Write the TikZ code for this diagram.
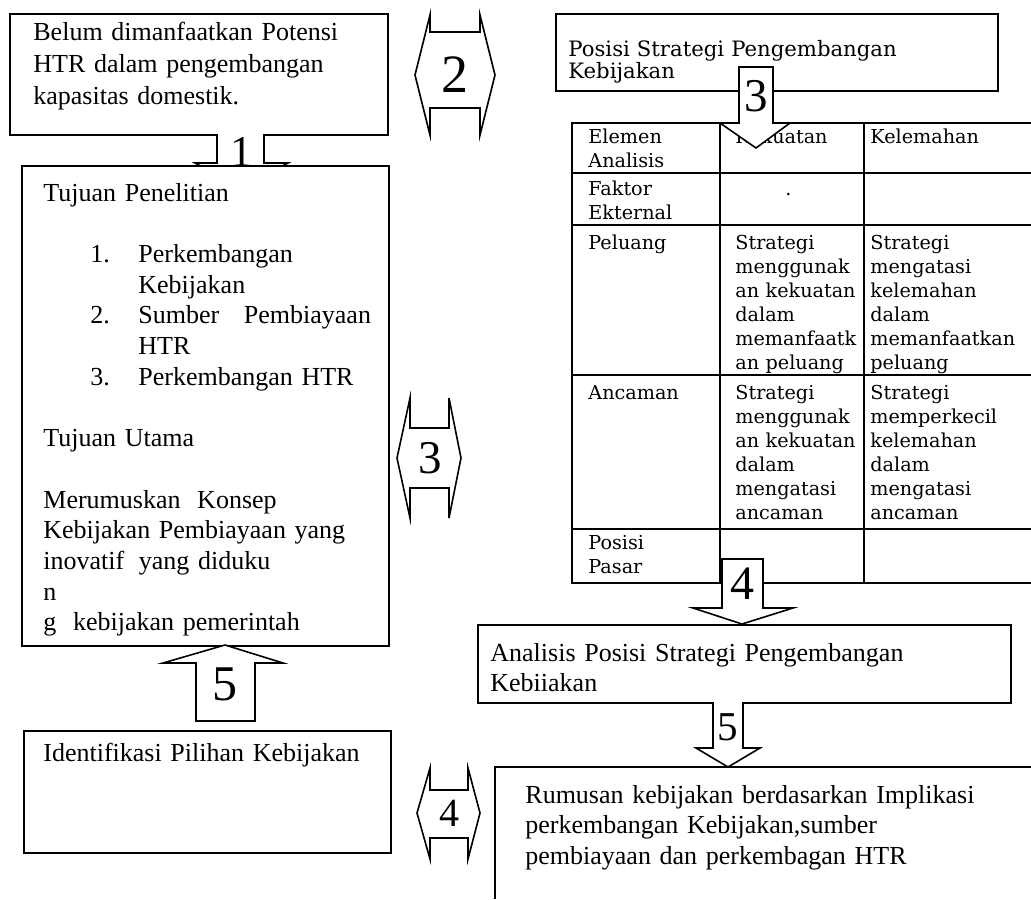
\documentclass[tikz,border=0pt]{standalone}
\usepackage{fontspec}
\setmainfont{Liberation Serif}
\newfontfamily\cellfont{DejaVu Serif}
\usetikzlibrary{positioning}
\tikzset{
  frame/.style={draw, line width=0.8pt, fill=white, inner sep=0pt, anchor=north west},
  blk/.style={draw, line width=0.8pt, fill=white, line join=miter},
  tbl/.style={draw, line width=0.6pt},
  txt/.style={anchor=base west, inner sep=0pt, align=left, text width=#1},
  txt/.default=180pt,
  num/.style={inner sep=0pt, font=\fontsize{#1}{#1}\selectfont},
}

\begin{document}
\begin{tikzpicture}[
  x=0.5pt,y=-0.5pt,
  body/.style={font=\fontsize{13pt}{15.35pt}\selectfont},
  cell/.style={txt=90pt, font={\cellfont\fontsize{9.6pt}{12pt}\selectfont}}
]
\useasboundingbox (0,0) rectangle (1031,899);

% left column
\node[frame, minimum width=189pt, minimum height=60.5pt] (belum) at (9,13) {};
\node[txt, font=\fontsize{13pt}{16pt}\selectfont] (belumtxt) at (33,41)
  {Belum dimanfaatkan Potensi\\HTR dalam pengembangan\\kapasitas domestik.};

\draw[blk] (217,134) -- (217,163) -- (195,163) -- (241,187) -- (288,163) -- (264,163) -- (264,134);
\node[num=22pt] (one) at (241,152) {1};

\node[frame, minimum width=183.5pt, minimum height=240pt] (tujuan) at (21,165) {};
\node[txt=170pt, body] (tujuantxt) at (43,201)
  {Tujuan Penelitian\\[\baselineskip]
   \hspace*{23.5pt}\makebox[24pt][l]{1.}Perkembangan\\
   \hspace*{47.5pt}Kebijakan\\
   \hspace*{23.5pt}\makebox[24pt][l]{2.}Sumber\hspace{8pt} Pembiayaan\\
   \hspace*{47.5pt}HTR\\
   \hspace*{23.5pt}\makebox[24pt][l]{3.}Perkembangan HTR\\[\baselineskip]
   Tujuan Utama\\[\baselineskip]
   Merumuskan\hspace{4pt} Konsep\\
   Kebijakan Pembiayaan yang\\
   inovatif\hspace{3pt} yang diduku\\
   n\\
   g\hspace{4pt} kebijakan pemerintah};

\draw[blk] (196,721) -- (196,663) -- (163,663) -- (225,645) -- (283,663) -- (255,663) -- (255,721) -- cycle;
\node[num=25pt] (fiveL) at (225,684) {5};

\node[frame, minimum width=183.5pt, minimum height=61pt] (identifikasi) at (23,730) {};
\node[txt, body] (identtxt) at (43,761) {Identifikasi Pilihan Kebijakan};

% two-way arrows in the middle
\draw[blk] (415,75) -- (430,15) -- (430,32) -- (480,32) -- (480,15) -- (495,75)
  -- (480,135) -- (480,108) -- (430,108) -- (430,135) -- cycle;
\node[num=27pt] (two) at (455,75) {2};

\draw[blk] (397,458) -- (410,398) -- (410,428) -- (449,428) -- (449,398) -- (461,458)
  -- (449,518) -- (449,488) -- (410,488) -- (410,518) -- cycle;
\node[num=23.5pt] (threeM) at (430,458) {3};

\draw[blk] (417,813) -- (430,768) -- (430,790) -- (468,790) -- (468,768) -- (480,813)
  -- (468,859) -- (468,838) -- (430,838) -- (430,859) -- cycle;
\node[num=20pt] (fourM) at (449,813) {4};

% right column
\node[frame, minimum width=221pt, minimum height=38.5pt] (posisi) at (555,13) {};
\node[txt=210pt, font={\cellfont\fontsize{10.6pt}{11pt}\selectfont}] (posisitxt) at (568,57)
  {Posisi Strategi Pengembangan\\Kebijakan};

% matrix table
\draw[tbl] (1031,123) -- (572,123) -- (572,583) -- (1031,583);
\foreach \y in {173,225,375,529}
  \draw[tbl] (572,\y) -- (1031,\y);
\foreach \x in {720,864}
  \draw[tbl] (\x,123) -- (\x,583);

\node[cell] (h0) at (588,143) {Elemen\\Analisis};
\node[cell] (h1) at (735,143) {Kekuatan};
\node[cell] (h2) at (870,143) {Kelemahan};
\node[cell] (f0) at (588,195) {Faktor\\Ekternal};
\node[cell] (f1) at (785,195) {.};
\node[cell] (p0) at (588,249) {Peluang};
\node[cell] (p1) at (735,249) {Strategi\\menggunak\\an kekuatan\\dalam\\memanfaatk\\an peluang};
\node[cell] (p2) at (870,249) {Strategi\\mengatasi\\kelemahan\\dalam\\memanfaatkan\\peluang};
\node[cell] (a0) at (588,399) {Ancaman};
\node[cell] (a1) at (735,399) {Strategi\\menggunak\\an kekuatan\\dalam\\mengatasi\\ancaman};
\node[cell] (a2) at (870,399) {Strategi\\memperkecil\\kelemahan\\dalam\\mengatasi\\ancaman};
\node[cell] (m0) at (588,549) {Posisi\\Pasar};

\draw[blk] (739,67) -- (739,123) -- (720,123) -- (756,148) -- (790,123) -- (773,123) -- (773,67) -- cycle;
\node[num=23.5pt] (threeR) at (756,96) {3};

\draw[blk] (722,559) -- (722,608) -- (693,608) -- (742,624) -- (793,608) -- (763,608) -- (763,559) -- cycle;
\node[num=24pt] (fourR) at (742,584) {4};

\node[frame, minimum width=266.5pt, minimum height=39pt] (analisis) at (477,624) {};
\node[txt=260pt, body] (analisistxt) at (490,661)
  {Analisis Posisi Strategi Pengembangan\\Kebiiakan};

\draw[blk] (713,702) -- (713,748) -- (696,748) -- (728,767) -- (760,748) -- (743,748) -- (743,702);
\node[num=20.5pt] (fiveR) at (728,727) {5};

\coordinate (rumTR) at (1031,767);
\coordinate (rumBL) at (495,899);
\draw[line width=0.8pt] (rumTR) -- (rumTR -| rumBL) -- (rumBL);
\node[txt=260pt, body] (rumusan) at (525,803)
  {Rumusan kebijakan berdasarkan Implikasi\\perkembangan Kebijakan,sumber\\pembiayaan dan perkembagan HTR};

\end{tikzpicture}
\end{document}
